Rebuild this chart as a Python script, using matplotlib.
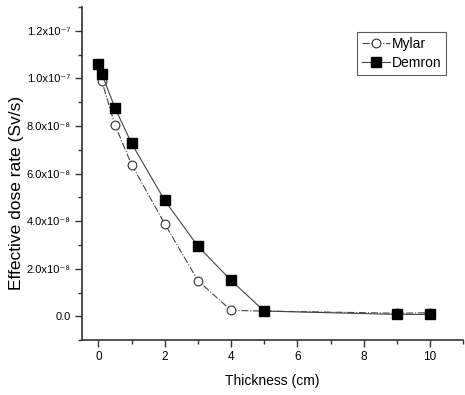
import matplotlib
matplotlib.use("Agg")
import matplotlib.pyplot as plt
from matplotlib.ticker import MultipleLocator

plt.rcParams['font.family'] = ['Liberation Sans', 'DejaVu Sans']

thickness_mylar = [0, 0.1, 0.5, 1, 2, 3, 4, 5, 9, 10]
mylar = [1.06e-7, 0.99e-7, 8.04e-8, 6.38e-8, 3.89e-8, 1.50e-8, 0.25e-8, 0.22e-8, 0.13e-8, 0.15e-8]
thickness_demron = [0, 0.1, 0.5, 1, 2, 3, 4, 5, 9, 10]
demron = [1.06e-7, 1.02e-7, 8.76e-8, 7.27e-8, 4.87e-8, 2.95e-8, 1.51e-8, 0.22e-8, 0.08e-8, 0.08e-8]

y_ticks = [0.0, 2.0e-8, 4.0e-8, 6.0e-8, 8.0e-8, 1.0e-7, 1.2e-7]
y_labels = ['0.0', '2.0x10⁻⁸', '4.0x10⁻⁸', '6.0x10⁻⁸', '8.0x10⁻⁸', '1.0x10⁻⁷', '1.2x10⁻⁷']
x_ticks = [0, 2, 4, 6, 8, 10]

fig = plt.figure(figsize=(4.65, 3.95), dpi=100)
ax = fig.add_axes([0.176, 0.139, 0.82, 0.843])

ax.plot(thickness_mylar, mylar, linestyle='-.', color='#444444', linewidth=0.8,
        marker='o', markersize=6.3, markerfacecolor='white', markeredgecolor='#333333',
        markeredgewidth=0.8, label='Mylar')
ax.plot(thickness_demron, demron, linestyle='-', color='#444444', linewidth=0.8,
        marker='s', markersize=6.5, markerfacecolor='black', markeredgecolor='black',
        label='Demron')

ax.set_xlim(-0.5, 11)
ax.set_ylim(-1.0e-8, 1.3e-7)
ax.set_yticks(y_ticks)
ax.set_yticklabels(y_labels, fontsize=8)
ax.set_xticks(x_ticks)
ax.set_xticklabels([str(v) for v in x_ticks], fontsize=8.5)
ax.xaxis.set_minor_locator(MultipleLocator(1))
ax.yaxis.set_minor_locator(MultipleLocator(1e-8))

for s in ['top', 'right']:
    ax.spines[s].set_visible(False)
for s in ['left', 'bottom']:
    ax.spines[s].set_color('#333333')
    ax.spines[s].set_linewidth(1.2)

ax.tick_params(which='major', direction='out', length=5, width=1, colors='#333333',
               labelcolor='black', pad=3)
ax.tick_params(which='minor', direction='out', length=3, width=1, colors='#333333')

ax.set_xlabel('Thickness (cm)', fontsize=10, labelpad=8)
ax.set_ylabel('Effective dose rate (Sv/s)', fontsize=12.5)
ax.yaxis.set_label_coords(-0.152, 0.443)

leg = ax.legend(loc='upper right', bbox_to_anchor=(0.955, 0.925), fontsize=10,
                frameon=True, fancybox=False, edgecolor='#333333',
                handlelength=2.0, handletextpad=0.1, borderpad=0.35, labelspacing=0.35,
                borderaxespad=0)
leg.get_frame().set_linewidth(0.8)

fig.savefig('out.png', dpi=100)
